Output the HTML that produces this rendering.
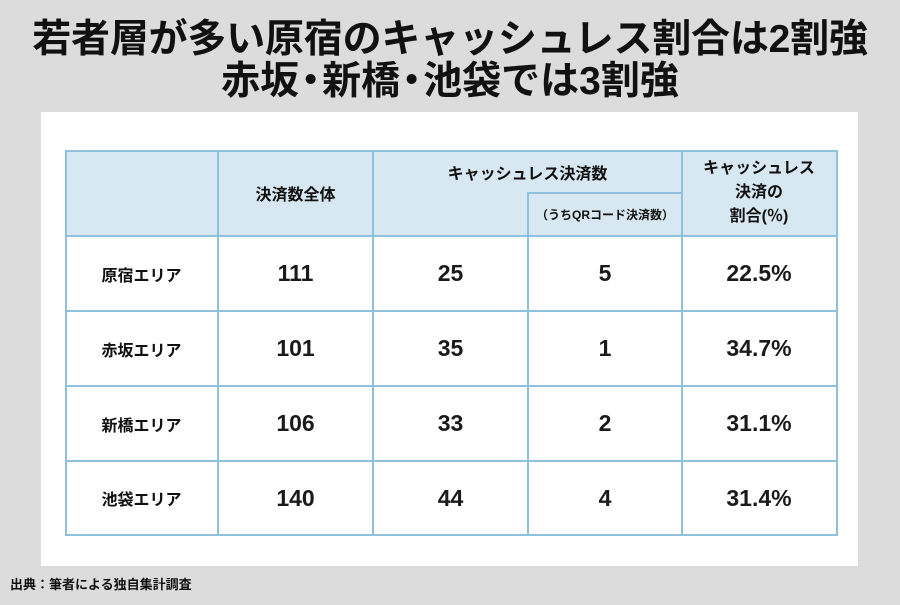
<!DOCTYPE html>
<html><head><meta charset="utf-8"><style>
body{margin:0;width:900px;height:605px;background:#dcdcdc;font-family:"Liberation Sans","Noto Sans CJK JP",sans-serif;position:relative;overflow:hidden;color:#111}
.t{position:absolute;left:0;width:900px;text-align:center;font-weight:bold;font-size:39px;line-height:42px;white-space:nowrap}
.d{letter-spacing:-16px;margin-left:-8px;margin-right:8px}
.panel{position:absolute;left:41px;top:112px;width:817px;height:454px;background:#fff}
.c{position:absolute;display:flex;align-items:center;justify-content:center;text-align:center;box-sizing:border-box;font-weight:bold}
.h{background:#d8e8f2}
.n{font-size:23px;color:#1a1a1a}
.l{font-size:16px}
.line{position:absolute;background:#8fc1dc}
.f{position:absolute;left:10px;top:574px;font-size:13px;font-weight:bold}
</style></head><body>
<div class="t" style="top:19px;letter-spacing:-0.2px">若者層が多い原宿のキャッシュレス割合は2割強</div>
<div class="t" style="top:61px">赤坂<span class="d">・</span>新橋<span class="d">・</span>池袋では3割強</div>
<div class="panel"></div>
<div class="c h" style="left:65px;top:150px;width:771px;height:86px"></div>
<div class="c l" style="left:218px;top:150px;width:155px;height:86px">決済数全体</div>
<div class="c l" style="left:373px;top:150px;width:309px;height:43px">キャッシュレス決済数</div>
<div class="c" style="left:528px;top:193px;width:154px;height:43px;font-size:12px">（うちQRコード決済数）</div>
<div class="c l" style="left:682px;top:150px;width:154px;height:86px;line-height:24px">キャッシュレス<br>決済の<br>割合(％)</div>
<div class="c l" style="left:65px;top:236px;width:153px;height:75px">原宿エリア</div>
<div class="c n" style="left:218px;top:236px;width:155px;height:75px">111</div>
<div class="c n" style="left:373px;top:236px;width:155px;height:75px">25</div>
<div class="c n" style="left:528px;top:236px;width:154px;height:75px">5</div>
<div class="c n" style="left:682px;top:236px;width:154px;height:75px">22.5%</div>
<div class="c l" style="left:65px;top:311px;width:153px;height:75px">赤坂エリア</div>
<div class="c n" style="left:218px;top:311px;width:155px;height:75px">101</div>
<div class="c n" style="left:373px;top:311px;width:155px;height:75px">35</div>
<div class="c n" style="left:528px;top:311px;width:154px;height:75px">1</div>
<div class="c n" style="left:682px;top:311px;width:154px;height:75px">34.7%</div>
<div class="c l" style="left:65px;top:386px;width:153px;height:75px">新橋エリア</div>
<div class="c n" style="left:218px;top:386px;width:155px;height:75px">106</div>
<div class="c n" style="left:373px;top:386px;width:155px;height:75px">33</div>
<div class="c n" style="left:528px;top:386px;width:154px;height:75px">2</div>
<div class="c n" style="left:682px;top:386px;width:154px;height:75px">31.1%</div>
<div class="c l" style="left:65px;top:461px;width:153px;height:74px">池袋エリア</div>
<div class="c n" style="left:218px;top:461px;width:155px;height:74px">140</div>
<div class="c n" style="left:373px;top:461px;width:155px;height:74px">44</div>
<div class="c n" style="left:528px;top:461px;width:154px;height:74px">4</div>
<div class="c n" style="left:682px;top:461px;width:154px;height:74px">31.4%</div>
<div class="line" style="left:65px;top:150px;width:773px;height:2px"></div>
<div class="line" style="left:528px;top:192px;width:154px;height:2px"></div>
<div class="line" style="left:65px;top:235px;width:773px;height:2px"></div>
<div class="line" style="left:65px;top:310px;width:773px;height:2px"></div>
<div class="line" style="left:65px;top:385px;width:773px;height:2px"></div>
<div class="line" style="left:65px;top:460px;width:773px;height:2px"></div>
<div class="line" style="left:65px;top:534px;width:773px;height:2px"></div>
<div class="line" style="left:65px;top:150px;width:2px;height:386px"></div>
<div class="line" style="left:217px;top:150px;width:2px;height:386px"></div>
<div class="line" style="left:372px;top:150px;width:2px;height:386px"></div>
<div class="line" style="left:527px;top:192px;width:2px;height:344px"></div>
<div class="line" style="left:681px;top:150px;width:2px;height:386px"></div>
<div class="line" style="left:836px;top:150px;width:2px;height:386px"></div>
<div class="f">出典：筆者による独自集計調査</div>
</body></html>
